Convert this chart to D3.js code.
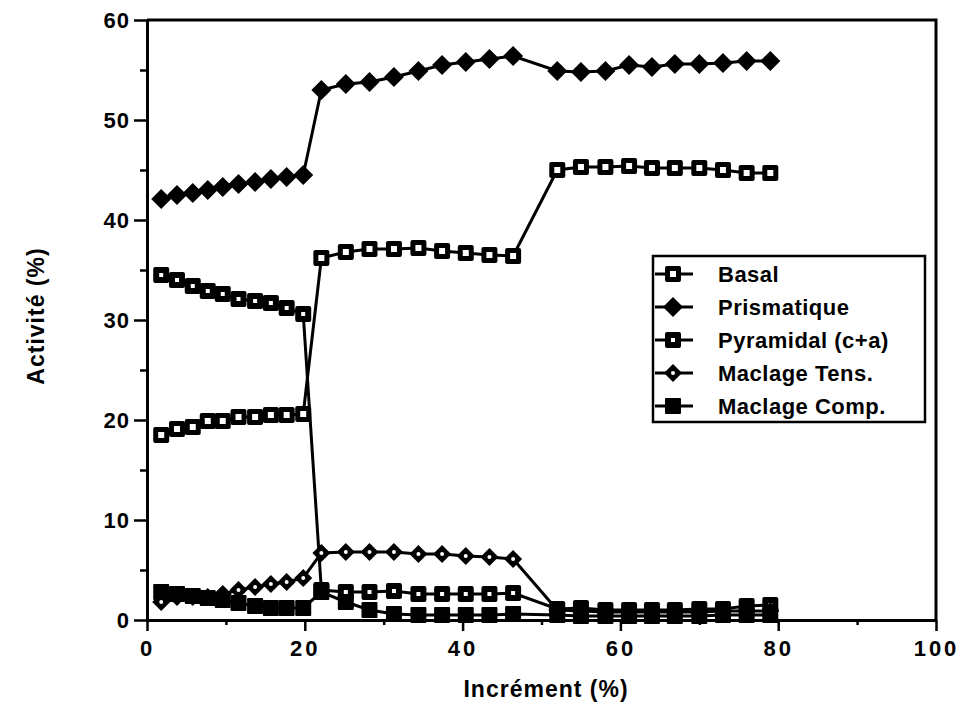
<!DOCTYPE html>
<html>
<head>
<meta charset="utf-8">
<script src="https://cdn.jsdelivr.net/npm/d3@7"></script>
<style>
  body { margin: 0; background: #fff; }
  text { font-family: "Liberation Sans", Arial, Helvetica, sans-serif; font-weight: bold; fill: #000; }
</style>
</head>
<body>
<script>
// x positions (increment %) of the three loading stages
var xStage1 = [1.8, 3.8, 5.8, 7.7, 9.6, 11.6, 13.7, 15.7, 17.7, 19.8],
    xStage2 = [22.1, 25.2, 28.2, 31.3, 34.4, 37.4, 40.4, 43.4, 46.4],
    xStage3 = [52.0, 55.0, 58.1, 61.1, 64.0, 66.9, 70.0, 73.0, 76.0, 79.0];
var increments = xStage1.concat(xStage2, xStage3);

var seriesNames = ["Basal", "Prismatique", "Pyramidal (c+a)", "Maclage Tens.", "Maclage Comp."];

var basal = [18.5, 19.1, 19.3, 19.9, 19.9, 20.3, 20.3, 20.5, 20.5, 20.6,
             36.2, 36.8, 37.1, 37.1, 37.2, 36.9, 36.7, 36.5, 36.4,
             45.0, 45.3, 45.3, 45.4, 45.2, 45.2, 45.2, 45.0, 44.7, 44.7];
var prismatique = [42.1, 42.5, 42.7, 43.0, 43.3, 43.6, 43.8, 44.1, 44.3, 44.5,
                   53.0, 53.6, 53.8, 54.3, 54.9, 55.5, 55.8, 56.1, 56.4,
                   54.9, 54.8, 54.9, 55.5, 55.3, 55.6, 55.6, 55.7, 55.9, 55.9];
var pyramidal = [34.5, 34.0, 33.4, 32.9, 32.6, 32.1, 31.9, 31.7, 31.2, 30.6,
                 3.0, 2.8, 2.8, 2.9, 2.6, 2.6, 2.6, 2.6, 2.7,
                 1.1, 1.2, 1.0, 1.0, 1.0, 1.0, 1.1, 1.1, 1.4, 1.5];
var maclageTens = [1.8, 2.3, 2.3, 2.3, 2.6, 3.0, 3.3, 3.6, 3.8, 4.2,
                   6.7, 6.8, 6.8, 6.8, 6.6, 6.6, 6.4, 6.3, 6.1,
                   1.0, 0.9, 0.8, 0.8, 0.8, 0.8, 0.8, 0.9, 0.9, 0.9];
var maclageComp = [2.8, 2.6, 2.4, 2.2, 2.0, 1.7, 1.4, 1.2, 1.2, 1.2,
                   2.8, 1.8, 1.0, 0.6, 0.5, 0.5, 0.5, 0.5, 0.6,
                   0.5, 0.4, 0.4, 0.4, 0.4, 0.4, 0.4, 0.5, 0.5, 0.5];

var xTicks = [0, 20, 40, 60, 80, 100],
    xMinor = [10, 30, 50, 70, 90],
    yTicks = [0, 10, 20, 30, 40, 50, 60],
    yMinor = [5, 15, 25, 35, 45, 55];

var width = 971, height = 704;

var svg = d3.select("body").append("svg")
    .attr("width", width)
    .attr("height", height);

var x = d3.scaleLinear().domain([0, 100]).range([147, 936]);
var y = d3.scaleLinear().domain([0, 60]).range([620, 20]);

// frame (top and right edges)
svg.append("path")
    .attr("d", "M" + x(0) + "," + y(60) + "H" + x(100) + "V" + y(0))
    .attr("fill", "none")
    .attr("stroke", "#000")
    .attr("stroke-width", 3);

// x axis
var xAxis = svg.append("g")
    .attr("transform", "translate(0," + y(0) + ")")
    .call(d3.axisBottom(x).tickValues(xTicks).tickSize(11).tickSizeOuter(0).tickPadding(9));
svg.append("g")
    .attr("transform", "translate(0," + y(0) + ")")
    .call(d3.axisBottom(x).tickValues(xMinor).tickSize(5).tickSizeOuter(0).tickFormat(""));

// y axis
var yAxis = svg.append("g")
    .attr("transform", "translate(" + x(0) + ",0)")
    .call(d3.axisLeft(y).tickValues(yTicks).tickSize(13).tickSizeOuter(0).tickPadding(4));
svg.append("g")
    .attr("transform", "translate(" + x(0) + ",0)")
    .call(d3.axisLeft(y).tickValues(yMinor).tickSize(7).tickSizeOuter(0).tickFormat(""));

svg.selectAll(".domain").attr("stroke-width", 3).attr("stroke", "#000");
svg.selectAll(".tick line").attr("stroke-width", 2.5).attr("stroke", "#000");
xAxis.selectAll("text").style("font-size", "22px").style("letter-spacing", "3px");
yAxis.selectAll("text").style("font-size", "22px").style("letter-spacing", "1px");

// axis titles
svg.append("text")
    .attr("x", 546).attr("y", 697)
    .attr("text-anchor", "middle")
    .style("font-size", "23px")
    .style("letter-spacing", "1px")
    .text("Incrément (%)");

svg.append("text")
    .attr("transform", "translate(44,316) rotate(-90)")
    .attr("text-anchor", "middle")
    .style("font-size", "23px")
    .style("letter-spacing", "1px")
    .text("Activité (%)");

// markers
function drawMarker(sel, kind) {
    if (kind === "openSquare") {
        sel.append("rect").attr("x", -8).attr("y", -8).attr("width", 16).attr("height", 16).attr("rx", 2).attr("fill", "#000");
        sel.append("rect").attr("x", -3).attr("y", -3).attr("width", 6).attr("height", 6).attr("fill", "#fff");
    } else if (kind === "dotSquare") {
        sel.append("rect").attr("x", -8).attr("y", -8).attr("width", 16).attr("height", 16).attr("rx", 2).attr("fill", "#000");
        sel.append("rect").attr("x", -2).attr("y", -2).attr("width", 4).attr("height", 4).attr("fill", "#fff");
    } else if (kind === "diamond") {
        sel.append("path").attr("d", "M0,-10L10,0L0,10L-10,0Z").attr("fill", "#000");
    } else if (kind === "openDiamond") {
        sel.append("path").attr("d", "M0,-9L9,0L0,9L-9,0Z").attr("fill", "#000");
        sel.append("circle").attr("r", 2).attr("fill", "#fff");
    } else if (kind === "square") {
        sel.append("rect").attr("x", -8).attr("y", -8).attr("width", 16).attr("height", 16).attr("rx", 1).attr("fill", "#000");
    }
}

var series = [
    { name: seriesNames[0], values: basal, marker: "openSquare" },
    { name: seriesNames[1], values: prismatique, marker: "diamond" },
    { name: seriesNames[2], values: pyramidal, marker: "dotSquare" },
    { name: seriesNames[3], values: maclageTens, marker: "openDiamond" },
    { name: seriesNames[4], values: maclageComp, marker: "square" }
];

var line = d3.line()
    .x(function (d) { return x(d[0]); })
    .y(function (d) { return y(d[1]); });

series.forEach(function (s) {
    var pts = increments.map(function (xi, k) { return [xi, s.values[k]]; });
    svg.append("path")
        .datum(pts)
        .attr("d", line)
        .attr("fill", "none")
        .attr("stroke", "#000")
        .attr("stroke-width", 3);
    svg.append("g").selectAll("g")
        .data(pts)
        .join("g")
        .attr("transform", function (d) { return "translate(" + x(d[0]) + "," + y(d[1]) + ")"; })
        .each(function () { drawMarker(d3.select(this), s.marker); });
});

// legend
var legend = svg.append("g");
legend.append("rect")
    .attr("x", 653).attr("y", 256)
    .attr("width", 272).attr("height", 166)
    .attr("fill", "#fff")
    .attr("stroke", "#000")
    .attr("stroke-width", 2.5);

series.forEach(function (s, k) {
    var ly = 274 + k * 33;
    var row = legend.append("g").attr("transform", "translate(0," + ly + ")");
    row.append("line")
        .attr("x1", 655).attr("x2", 693)
        .attr("stroke", "#000").attr("stroke-width", 3);
    var m = row.append("g").attr("transform", "translate(673,0)");
    drawMarker(m, s.marker);
    row.append("text")
        .attr("x", 718).attr("y", 8)
        .style("font-size", "22px")
        .style("letter-spacing", "0.5px")
        .text(s.name);
});
</script>
</body>
</html>
